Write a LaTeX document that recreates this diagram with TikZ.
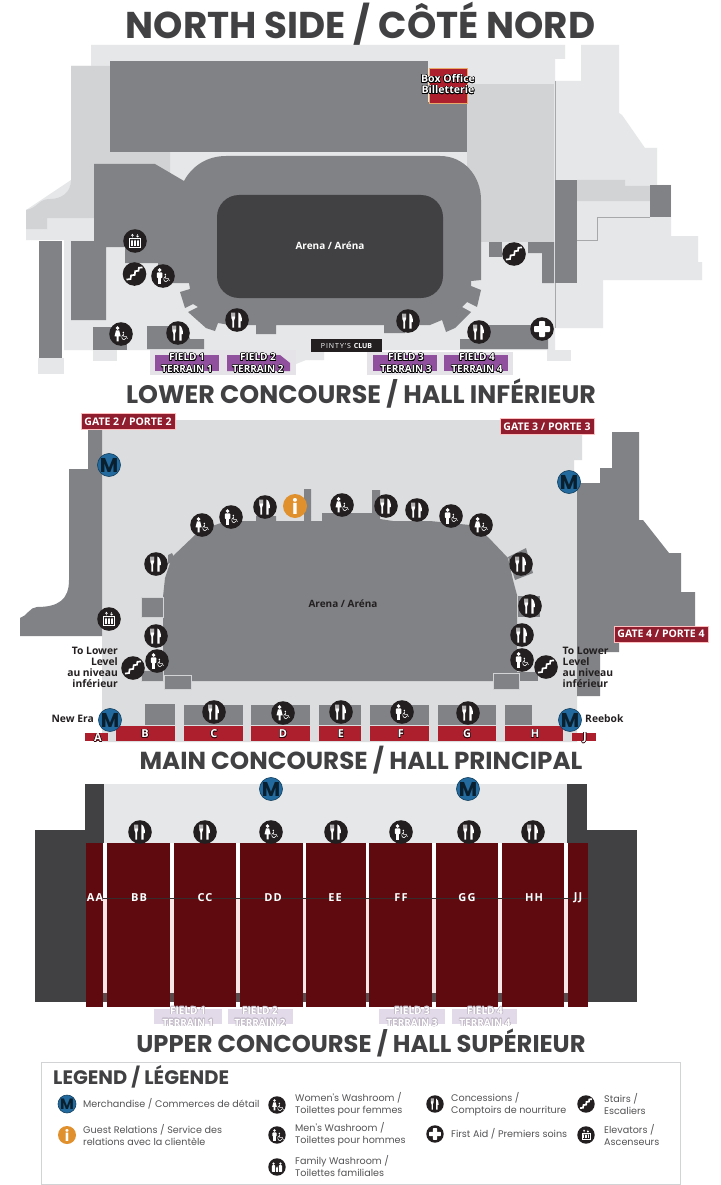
\documentclass[tikz,border=0pt]{standalone}
\usepackage{fontspec}
\usepackage{contour}
\usepackage{xcolor}
\setmainfont{Open Sans}
\newfontfamily\headfont{Poppins}
\contourlength{0.5pt}
\usetikzlibrary{positioning}

\definecolor{palegrey}{HTML}{E6E7E8}
\definecolor{sidegrey}{HTML}{D1D3D4}
\definecolor{hallgrey}{HTML}{DCDDDE}
\definecolor{midgrey}{HTML}{808285}
\definecolor{darkgrey}{HTML}{414042}
\definecolor{iconblack}{HTML}{231F20}
\definecolor{gatered}{HTML}{8F1D2E}
\definecolor{sectred}{HTML}{AD1F2D}
\definecolor{maroon}{HTML}{5E0A0E}
\definecolor{bandgrey}{HTML}{5A4A4C}
\definecolor{gappink}{HTML}{F8E6E6}
\definecolor{fieldpurple}{HTML}{90509E}
\definecolor{fieldpale}{HTML}{E3DAE9}
\definecolor{merchblue}{HTML}{236A9E}
\definecolor{infoorange}{HTML}{E0902C}

\tikzset{
  fieldbox/.style={fill=fieldpurple},
  fieldlbl/.style={font=\fontsize{10}{11.8}\selectfont\bfseries, text=white, align=center, inner sep=0pt},
  bigtitle/.style={font=\headfont\bfseries, text=darkgrey, inner sep=0pt},
  gatebox/.style={fill=gatered, draw=red!25!white, line width=.6pt, text=white, inner sep=0pt,
    minimum width=94pt, minimum height=16pt, font=\fontsize{10.5}{11}\selectfont\bfseries},
  sectlbl/.style={font=\fontsize{11}{12}\selectfont\bfseries, text=white, inner sep=0pt},
  upperlbl/.style={font=\fontsize{11}{12}\selectfont\bfseries\addfontfeature{LetterSpace=10}, text=white, inner sep=0pt},
  darklbl/.style={font=\fontsize{10.3}{11.2}\selectfont\bfseries, text=iconblack, inner sep=0pt},
  legendtxt/.style={font=\headfont\fontsize{9.6}{12.2}\selectfont, text=darkgrey!90!white, align=left, anchor=west, inner sep=0pt},
  merchnode/.style={circle, fill=merchblue, draw=merchblue!60!black, line width=.6pt, minimum size=23pt, inner sep=0pt,
    text=black!70!merchblue, font=\headfont\bfseries\fontsize{20}{20}\selectfont},
  infonode/.style={circle, fill=infoorange, minimum size=24pt, inner sep=0pt, text=white, font=\headfont\bfseries\fontsize{20}{20}\selectfont},
  pics/foodicon/.style={code={
    \fill[iconblack] (0,0) circle (11.8);
    \fill[white] (-5.6,-7.5) -- (-4.9,-7.5) -- (-4.9,-3.5) -- (-4.3,-3.5) -- (-4.3,-7.5) -- (-3.3,-7.5) -- (-3.3,-3.5) -- (-2.7,-3.5)
      -- (-2.7,-7.5) -- (-2,-7.5) -- (-2,-2) .. controls (-2,-.5) and (-2.9,0) .. (-2.9,.5) -- (-2.9,7.5) -- (-4.7,7.5) -- (-4.7,.5)
      .. controls (-4.7,0) and (-5.6,-.5) .. (-5.6,-2) -- cycle;
    \fill[white] (1.4,-7.5) .. controls (3.8,-7) and (5,-3) .. (5,1.2) -- (3.6,1.2) -- (3.6,7.5) -- (1.4,7.5) -- cycle;
  }},
  pics/chairicon/.style={code={
    \fill[white] (2.3,-1.6) circle (.8);
    \draw[white, line width=.55pt] (2.3,-.6) -- (2.7,2.4) -- (5.2,2.4) -- (6.4,4.8);
    \draw[white, line width=.55pt] (1.8,.9) .. controls (-.2,2.2) and (1,5.9) .. (3.1,5.7) .. controls (4.1,5.6) and (4.8,5) .. (5,4);
  }},
  pics/manicon/.style={code={
    \fill[iconblack] (0,0) circle (11.8);
    \fill[white] (-3.4,-6) circle (1.9);
    \fill[white, rounded corners=.8pt] (-6.2,-3.6) rectangle (-.6,2);
    \fill[white] (-5.2,0) rectangle (-1.6,7.6);
    \pic {chairicon};
  }},
  pics/womanicon/.style={code={
    \fill[iconblack] (0,0) circle (11.8);
    \fill[white] (-3.4,-6) circle (1.9);
    \fill[white] (-5,-3.6) -- (-1.8,-3.6) -- (-.3,2.4) -- (-2.3,2.4) -- (-2.3,7.4) -- (-4.5,7.4) -- (-4.5,2.4) -- (-6.5,2.4) -- cycle;
    \pic {chairicon};
  }},
  pics/familyicon/.style={code={
    \fill[iconblack] (0,0) circle (11.8);
    \foreach \px in {-4.6,4.6} {
      \fill[white] (\px,-4.6) circle (1.7);
      \fill[white, rounded corners=.6pt] (\px-2.2,-2.4) rectangle (\px+2.2,6.6);
    }
    \fill[white] (0,.4) circle (1.1);
    \fill[white] (-1.1,2) rectangle (1.1,6.6);
  }},
  pics/stairsicon/.style={code={
    \fill[iconblack] (0,0) circle (11.8);
    \draw[white, line width=1.7pt] (-8,5.6) -- (-4,5) -- (-3.4,1.4) -- (.2,.9) -- (.7,-2.8) -- (4,-3.3) -- (4.4,-6.2) -- (8,-6.6);
  }},
  pics/elevatoricon/.style={code={
    \fill[iconblack] (0,0) circle (11.8);
    \draw[white, line width=.6pt] (-5.4,-2.4) rectangle (5.4,6.4);
    \foreach \px in {-3,0,3} {
      \fill[white] (\px,-.6) circle (.75);
      \fill[white] (\px-.85,.4) rectangle (\px+.85,4.6);
    }
    \draw[white, line width=.5pt] (-2.6,-3.6) -- (-2.6,-6.6) (-3.8,-5.4) -- (-2.6,-6.8) -- (-1.4,-5.4);
    \draw[white, line width=.5pt] (2.6,-7) -- (2.6,-4) (1.4,-5.2) -- (2.6,-3.8) -- (3.8,-5.2);
  }},
  pics/aidicon/.style={code={
    \fill[iconblack] (0,0) circle (11.8);
    \fill[white, rounded corners=.8pt] (-3,-8) rectangle (3,8);
    \fill[white, rounded corners=.8pt] (-8,-3) rectangle (8,3);
  }},
}
\newcommand{\fieldtext}[2]{\contour{#2}{FIELD #1}\\\contour{#2}{TERRAIN #1}}

\begin{document}
\begin{tikzpicture}[x=1pt,y=-1pt]
\useasboundingbox (0,0) rectangle (720,1185);
\fill[white] (0,0) rectangle (720,1185);

% north side
\node[bigtitle, font=\headfont\bfseries\fontsize{37.3}{38}\selectfont] (titlenorth) at (360.5,23.5) {NORTH SIDE / CÔTÉ NORD};

\fill[palegrey] (91,45) -- (565,45) -- (565,59) -- (555,59) -- (555,350) -- (64,350) -- (64,240) -- (26,240) -- (26,210) -- (71,180) -- (71,66) -- (91,66) -- cycle;
\fill[palegrey] (555,81) -- (581,81) -- (581,45) -- (619,45) -- (619,113) -- (622,115) -- (645,148) -- (657,148) -- (657,185) -- (671,185) -- (671,236) -- (698,236) -- (698,262) -- (702,262) -- (702,280) -- (603,280) -- (603,328) -- (555,328) -- cycle;
\fill[palegrey] (38,358) rectangle (64,374);
\fill[palegrey] (93,350) rectangle (117,361);
\fill[palegrey] (547,350) rectangle (571,361);
\fill[palegrey!70!fieldpale] (150,350) -- (296,350) -- (296,375) -- (150,375) -- cycle;
\fill[palegrey] (296,350) -- (324,350) -- (324,360) -- (306,360) -- (296,364) -- cycle;
\fill[palegrey!70!fieldpale] (367,352) rectangle (513,375);

\fill[sidegrey] (71,66) -- (110,66) -- (110,152) -- (170,152) -- (170,175) -- (155,164) -- (94,164) -- (94,218) -- (47,218) -- (47,229) -- (26,229) -- (26,210) .. controls (38,208) and (38,199) .. (50,199) .. controls (62,199) and (71,192) .. (71,180) -- cycle;
\fill[sidegrey] (467,84) rectangle (554,242);
\fill[sidegrey] (577,180) -- (625,180) -- (625,186) -- (650,186) -- (650,201) -- (577,201) -- cycle;
\draw[midgrey!70!white, line width=.6pt] (555,81) -- (555,328);
\draw[midgrey!70!white, line width=.6pt] (577,240) -- (597,240) -- (597,217) -- (650,217);

\fill[midgrey] (110,61) rectangle (428,152);
\fill[midgrey] (428,102) rectangle (467,152);
\fill[midgrey] (39,241) rectangle (62,358);
\fill[midgrey] (555,180) rectangle (577,283);
\fill[midgrey] (650,185) rectangle (671,217);
\fill[midgrey] (489,242) rectangle (502,257);
\fill[midgrey] (528,242) -- (554,242) -- (554,283) -- (542,283) -- (542,253) -- (528,253) -- cycle;
\fill[midgrey] (484,325) -- (540,325) -- (548,338) -- (548,349) -- (460,349) -- (460,339) -- (484,339) -- cycle;
\fill[midgrey] (93,327) rectangle (127,350);
\fill[midgrey] (147,326) -- (185,326) -- (190,339) -- (204,339) -- (204,349) -- (147,349) -- cycle;
\fill[midgrey] (94,164) -- (155,164) -- (184,181) .. controls (192,166) and (207,156) .. (226,156) -- (440,156) .. controls (464,156) and (481,176) .. (481,200)
  -- (481,280) -- (471,281) -- (471,286) -- (481,290) -- (477,307) -- (467,302) -- (462,307) -- (471,312) -- (455,328) -- (446,332) -- (442,320) -- (430,325) -- (405,325) -- (405,333) -- (384,333) -- (384,325) -- (276,325) -- (276,334) -- (256,334) -- (256,325) -- (230,325) -- (218,323) -- (215,331) -- (206,328) -- (197,320) -- (188,312) -- (198,307) -- (193,304) -- (185,308) -- (180,292) -- (190,289) -- (189,283) -- (158,283) -- (158,263) -- (125,263) -- (125,247) -- (106,247) -- (106,320) -- (71,320) -- (71,241) -- (94,241) -- cycle;

\fill[darkgrey, rounded corners=22pt] (217,195) rectangle (443,298);
\node[font=\fontsize{10}{11}\selectfont\bfseries, text=white, inner sep=0pt] (arenanorth) at (330,246) {Arena / Aréna};

\fill[sectred, draw=orange!50!sidegrey, line width=.6pt] (429,68) rectangle (467,103);
\node[fieldlbl, font=\fontsize{10.6}{11.2}\selectfont\bfseries] (boxoffice) at (448,84.5) {\contour{black}{Box Office}\\\contour{black}{Billetterie}};

\fill[fieldbox] (155,355) rectangle (219,371);
\fill[fieldbox] (227,355) -- (280,355) -- (290,363) -- (290,371) -- (227,371) -- cycle;
\fill[fieldbox] (373,355) rectangle (437,371);
\fill[fieldbox] (444,355) rectangle (508,371);
\foreach \fx/\fn in {187/1,258/2,406/3,477/4}
  \node[fieldlbl] (fieldn\fn) at (\fx,363.5) {\fieldtext{\fn}{black}};

\fill[iconblack] (311,339) rectangle (382,352);
\node[font=\fontsize{7}{8}\selectfont\bfseries, text=white, inner sep=0pt] (pintys) at (346.5,345.5) {\addfontfeature{LetterSpace=14}\mdseries PINTY'S \addfontfeature{LetterSpace=0}\bfseries CLUB};

\foreach \ix/\iy in {178/333,237/320,408/321,479/332}
  \pic at (\ix,\iy) {foodicon};
\pic at (135,241) {elevatoricon};
\pic at (134.5,274) {stairsicon};
\pic at (514,254) {stairsicon};
\pic at (163,276) {manicon};
\pic at (121,334) {womanicon};
\pic at (542,329) {aidicon};

\node[bigtitle, font=\headfont\bfseries\fontsize{25.3}{26}\selectfont] (titlelower) at (361,394) {LOWER CONCOURSE / HALL INFÉRIEUR};

% main concourse map
\fill[hallgrey] (102,420) -- (582,420) -- (582,460) -- (574,460) -- (574,482) -- (577,482) -- (577,742) -- (102,742) -- cycle;
\fill[midgrey] (88,430) -- (102,430) -- (102,636) -- (20,636) -- (20,618) .. controls (27,616) and (30,607) .. (37,607) .. controls (58,607) and (69,600) .. (69,580) -- (69,469) -- (88,469) -- cycle;
\fill[midgrey] (577,483) -- (600,483) -- (600,468) -- (612,468) -- (612,432) -- (639,432) -- (639,520) -- (643,520) -- (669,553) -- (681,553) -- (681,592) -- (695,592) -- (695,627) -- (619,627) -- (619,652) -- (600,652) -- (600,696) -- (577,696) -- cycle;
\fill[midgrey] (163,681) -- (163,597) -- (165,578) -- (172,557) -- (195,535) .. controls (208,527) and (220,522) .. (233,521) -- (256,521) -- (256,516) -- (276,516) -- (276,521) -- (304,521) -- (304,489) -- (311,489) -- (311,521) -- (322,521) -- (322,513) -- (372,513) -- (372,490) -- (380,490) -- (380,519) -- (393,521) -- (430,521) -- (470,525) -- (488,537) -- (508,558) -- (513,580) -- (517,595) -- (517,681) -- cycle;
\fill[midgrey] (508,557) -- (526,548) -- (533,573) -- (515,580) -- cycle;
\fill[midgrey] (518,596) rectangle (540,617);
\fill[midgrey] (168,555) -- (172,553) -- (175,560) -- (168,564) -- cycle;
\fill[midgrey] (517,672) -- (538,672) -- (538,681) -- (517,681) -- cycle;
\foreach \ax/\ay/\bx/\by in {141/597/163/617,141/670/163/681,164/675/191/689,493/673/519/689}
  \fill[midgrey, draw=sidegrey, line width=.4pt] (\ax,\ay) rectangle (\bx,\by);

\foreach \sx/\sy/\tx in {145/704/175,184/705/243,251/705/310,319/705/361,370/705/429,438/705/496,505/705/532}
  \fill[midgrey] (\sx,\sy) rectangle (\tx,725);
\foreach \sx/\tx in {116/175,184/243,251/310,319/361,370/429,438/496,505/563}
  \fill[sectred] (\sx,726) rectangle (\tx,741);
\fill[sectred] (85,733) rectangle (108,741);
\fill[sectred] (572,733) rectangle (596,741);
\foreach \lx/\ly/\lt in {98/738/A,145/734/B,214/734/C,283/734/D,341/734/E,401/734/F,467/734/G,535/734/H,585/738/J}
  \node[sectlbl] (sect\lt) at (\lx,\ly) {\contour{black!70!sectred}{\lt}};

\node[gatebox] (gatetwo) at (128,421.5) {GATE 2 / PORTE 2};
\node[gatebox] (gatethree) at (547,426.5) {GATE 3 / PORTE 3};
\node[gatebox] (gatefour) at (661,634) {GATE 4 / PORTE 4};
\node[font=\fontsize{10}{11}\selectfont\bfseries, text=iconblack, inner sep=0pt] (arenamain) at (343,604) {Arena / Aréna};

\node[darklbl, align=right, anchor=east] (lowerleft) at (118,667.5) {To Lower\\Level\\au niveau\\inférieur};
\node[darklbl, align=left, anchor=west] (lowerright) at (562.5,667.5) {To Lower\\Level\\au niveau\\inférieur};
\node[darklbl, anchor=east] (newera) at (94,719) {New Era};
\node[darklbl, anchor=west] (reebok) at (585,719) {Reebok};

\foreach \ix/\iy in {265/507,386/506,417/510,521/564,530/606,522/635,156/564,156/636,214/712,341/712,468/713}
  \pic at (\ix,\iy) {foodicon};
\foreach \ix/\iy in {231/517,451/516,522/660,157/661,402/712}
  \pic at (\ix,\iy) {manicon};
\foreach \ix/\iy in {202/525,342/505,481/525,283/713}
  \pic at (\ix,\iy) {womanicon};
\pic at (546,667) {stairsicon};
\pic at (133,668) {stairsicon};
\pic at (109,619) {elevatoricon};
\node[infonode] (infomain) at (295,506) {i};
\foreach \mx/\my/\mn in {109/465/a,569/482/b,110/720/c,570/720/d}
  \node[merchnode] (merch\mn) at (\mx,\my) {M};

\node[bigtitle, font=\headfont\bfseries\fontsize{24.6}{25}\selectfont] (titlemain) at (361,760) {MAIN CONCOURSE / HALL PRINCIPAL};

% upper concourse map
\fill[palegrey] (104,784) rectangle (567,843);
\fill[darkgrey] (35,830) rectangle (86,1002);
\fill[darkgrey] (85,784) rectangle (104,843);
\fill[darkgrey] (567,784) rectangle (587,843);
\fill[darkgrey] (587,830) rectangle (637,1002);
\fill[white] (103,843) rectangle (568,898);
\fill[gappink] (103,898) rectangle (568,993);
\fill[bandgrey] (86,993) rectangle (568,1002);
\foreach \sx/\tx in {86/103,107/170,174/236,240/303,306/366,369/432,436/498,502/564,568/588}
  \fill[maroon] (\sx,843) rectangle (\tx,1007);
\draw[bandgrey!60!black, line width=.4pt] (86,898) -- (588,898);
\foreach \lx/\lt in {95/AA,139/BB,205/CC,273/DD,335/EE,401/FF,467/GG,534/HH,578/JJ}
  \node[upperlbl] (upper\lt) at (\lx,898) {\lt};

\foreach \ax/\bx in {154/222,228/293,379/445,452/517}
  \fill[fieldpale] (\ax,1009) rectangle (\bx,1024);
\foreach \fx/\fn in {188/1,260/2,412/3,485/4}
  \node[fieldlbl] (fieldu\fn) at (\fx,1017) {\fieldtext{\fn}{fieldpale!85!black}};

\foreach \ix in {140,205,336,469,533}
  \pic at (\ix,832) {foodicon};
\pic at (271,832) {womanicon};
\pic at (401,832) {manicon};
\node[merchnode] (merche) at (271,789) {M};
\node[merchnode] (merchf) at (468,789) {M};

\node[bigtitle, font=\headfont\bfseries\fontsize{24.2}{25}\selectfont] (titleupper) at (361,1043) {UPPER CONCOURSE / HALL SUPÉRIEUR};

% legend
\draw[sidegrey, line width=.8pt] (41,1062) rectangle (680.5,1184);
\node[bigtitle, anchor=west, font=\headfont\bfseries\fontsize{19.5}{20}\selectfont] (legendhead) at (53,1077) {LEGEND / LÉGENDE};

\node[merchnode, minimum size=18pt, font=\headfont\bfseries\fontsize{15}{15}\selectfont] (legendm) at (67,1104) {M};
\node[infonode, minimum size=18pt, font=\headfont\bfseries\fontsize{15}{15}\selectfont] (legendi) at (67,1135) {i};
\pic[scale=.74] at (277,1105) {womanicon};
\pic[scale=.74] at (277,1135) {manicon};
\pic[scale=.74] at (277,1167) {familyicon};
\pic[scale=.74] at (435,1104) {foodicon};
\pic[scale=.74] at (435,1134) {aidicon};
\pic[scale=.74] at (586,1104) {stairsicon};
\pic[scale=.74] at (586,1135) {elevatoricon};

\node[legendtxt] (txtmerch) at (83,1104) {Merchandise / Commerces de détail};
\node[legendtxt] (txtinfo) at (83,1135) {Guest Relations / Service des\\relations avec la clientèle};
\node[legendtxt] (txtwomen) at (295,1104) {Women's Washroom /\\Toilettes pour femmes};
\node[legendtxt] (txtmen) at (295,1134) {Men's Washroom /\\Toilettes pour hommes};
\node[legendtxt] (txtfamily) at (295,1166) {Family Washroom /\\Toilettes familiales};
\node[legendtxt] (txtfood) at (451,1104) {Concessions /\\Comptoirs de nourriture};
\node[legendtxt] (txtaid) at (451,1134) {First Aid / Premiers soins};
\node[legendtxt] (txtstairs) at (604,1104) {Stairs /\\Escaliers};
\node[legendtxt] (txtelev) at (604,1135) {Elevators /\\Ascenseurs};
\end{tikzpicture}
\end{document}
